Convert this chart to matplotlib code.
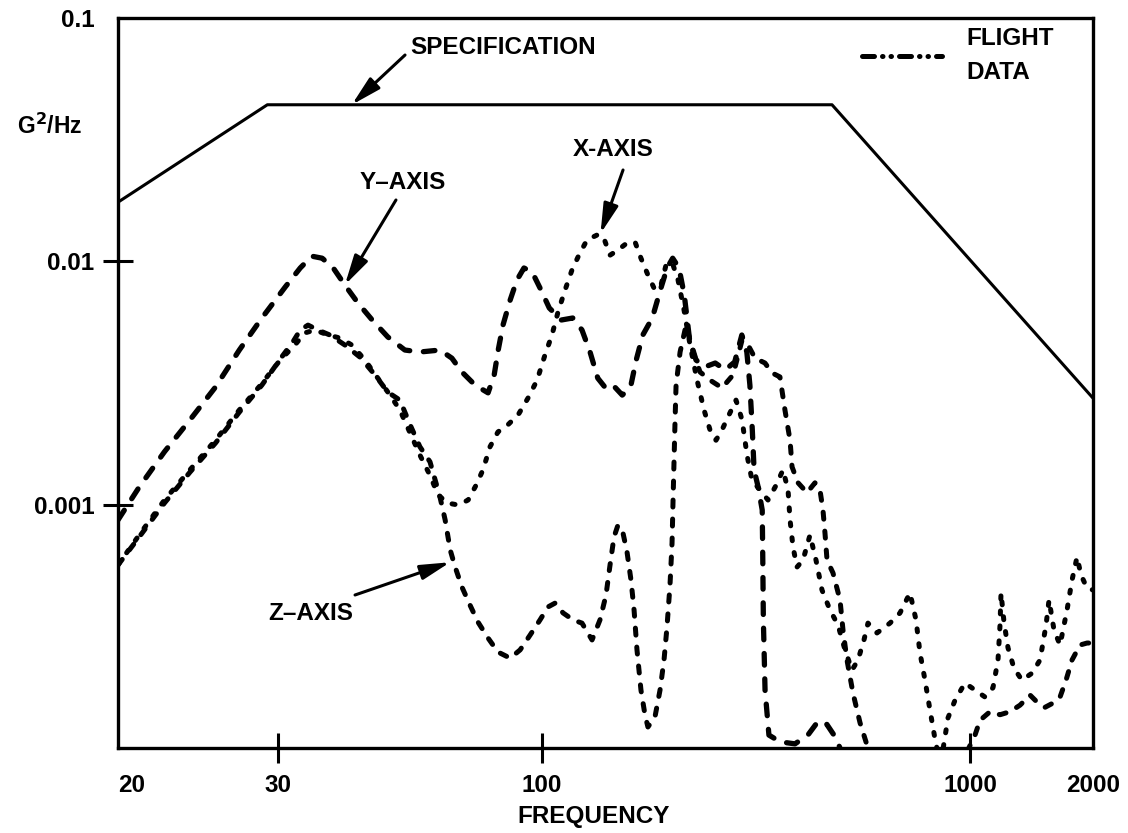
import matplotlib.pyplot as plt
import numpy as np
from matplotlib.lines import Line2D
from matplotlib.ticker import NullLocator

plt.rcParams['font.family'] = ['Liberation Sans', 'DejaVu Sans']
plt.rcParams['font.weight'] = 'bold'

# specification envelope
spec_freq = [20, 29.2, 476, 2000]
spec_psd = [0.0175, 0.044, 0.044, 0.00274]

# Y-axis flight data
y_freq = [20, 21.1, 22.5, 24, 25.6, 27.2, 28.8, 31, 33.2, 35,
          36.7, 38.6, 40.7, 43.2, 46.1, 49.5, 53.5, 57.3, 62.8, 66.3,
          69.4, 73.7, 78.2, 80.4, 81.9, 83.7, 86.5, 89.2, 92.1, 95.6,
          99.1, 104, 111, 118, 124, 129.5, 135, 142, 148, 154,
          161, 166, 172, 181, 189, 196, 202, 209, 215, 221,
          229, 240, 254, 268, 282, 293, 301, 306, 310, 313,
          320, 327, 328, 329, 332, 339, 360, 390, 418, 442,
          463, 486, 510]
y_psd = [8.65e-4, 1.18e-3, 1.65e-3, 2.23e-3, 3.04e-3, 4.32e-3, 5.85e-3, 7.84e-3, 9.39e-3, 1.05e-2,
         1.03e-2, 9.39e-3, 7.99e-3, 6.74e-3, 5.74e-3, 4.89e-3, 4.32e-3, 4.24e-3, 4.32e-3, 4.0e-3,
         3.51e-3, 3.10e-3, 2.88e-3, 3.41e-3, 4.32e-3, 5.47e-3, 6.94e-3, 8.38e-3, 9.39e-3, 9.04e-3,
         7.77e-3, 6.43e-3, 5.74e-3, 5.85e-3, 5.22e-3, 4.24e-3, 3.31e-3, 2.96e-3, 3.04e-3, 2.82e-3,
         3.04e-3, 3.93e-3, 4.98e-3, 5.85e-3, 7.62e-3, 9.39e-3, 1.03e-2, 9.39e-3, 7.27e-3, 4.84e-3,
         3.93e-3, 3.68e-3, 3.82e-3, 3.58e-3, 3.86e-3, 4.98e-3, 4.24e-3, 3.10e-3, 2.03e-3, 1.39e-3,
         1.18e-3, 9.5e-4, 5.92e-4, 3.36e-4, 1.73e-4, 1.13e-4, 1.06e-4, 1.04e-4, 1.13e-4, 1.29e-4,
         1.25e-4, 1.10e-4, 8.9e-5]

# X-axis flight data
x_freq = [20, 21.1, 22.5, 24.0, 25.6, 27.2, 28.7, 30.3, 32.4, 33.9,
          35.5, 37.7, 39.8, 42.0, 44.6, 47.3, 50.0, 52.3, 54.8, 57.3,
          60.0, 62.2, 64.9, 68.2, 71.4, 74.0, 76.4, 78.9, 81.8, 85.6,
          89.7, 93.8, 97.8, 101.6, 105.5, 109.0, 113.2, 117.5, 122.0, 127.4,
          134.5, 138.9, 144.2, 150.5, 158.0, 165.0, 170.3, 176.8, 183.6, 189.7,
          194.9, 201.3, 207.9, 214.7, 221.8, 230.3, 239.1, 246.9, 255.0, 263.4,
          273.5, 284.0, 293.4, 301.3, 309.5, 323.1, 337.3, 352.2, 365.7, 375.7,
          379.8, 385.9, 394.3, 407.2, 422.8, 436.7, 451.0, 470.9, 491.6, 510.5,
          530.1, 547.4, 565.3, 577.6, 606.3, 650.2, 686.2, 724.1, 747.9, 764.1,
          785.0, 806.4, 832.9, 855.6, 888.4, 922.4, 973.4, 1028.6, 1088.2, 1138.4,
          1171, 1184.3, 1191, 1211.3, 1238.9, 1281.1, 1340.2, 1418.5, 1483.9, 1534.9,
          1561.1, 1605.7, 1660.9, 1727.7, 1777.1, 1827.9, 1869.6, 1933.9, 2000]
x_psd = [5.65e-4, 7.5e-4, 1.045e-3, 1.39e-3, 1.84e-3, 2.45e-3, 3.10e-3, 3.93e-3, 4.53e-3, 5.08e-3,
         5.22e-3, 4.98e-3, 4.84e-3, 4.53e-3, 3.93e-3, 3.31e-3, 2.82e-3, 2.45e-3, 1.97e-3, 1.60e-3,
         1.32e-3, 1.10e-3, 1.016e-3, 9.97e-4, 1.045e-3, 1.20e-3, 1.39e-3, 1.73e-3, 1.99e-3, 2.13e-3,
         2.34e-3, 2.74e-3, 3.25e-3, 4.12e-3, 4.98e-3, 6.19e-3, 7.62e-3, 9.21e-3, 1.062e-2, 1.224e-2,
         1.283e-2, 1.27e-2, 1.06e-2, 1.113e-2, 1.19e-2, 1.20e-2, 1.03e-2, 8.79e-3, 7.62e-3, 7.99e-3,
         9.66e-3, 9.94e-3, 8.38e-3, 6.31e-3, 4.53e-3, 3.25e-3, 2.45e-3, 2.03e-3, 1.84e-3, 2.03e-3,
         2.34e-3, 2.69e-3, 2.23e-3, 1.60e-3, 1.26e-3, 1.15e-3, 1.045e-3, 1.20e-3, 1.39e-3, 1.15e-3,
         8.65e-4, 6.70e-4, 5.54e-4, 5.92e-4, 7.50e-4, 5.92e-4, 4.46e-4, 3.69e-4, 3.20e-4, 2.53e-4,
         2.09e-4, 2.30e-4, 2.78e-4, 3.26e-4, 2.97e-4, 3.26e-4, 3.59e-4, 4.34e-4, 3.36e-4, 2.46e-4,
         1.90e-4, 1.43e-4, 1.03e-4, 8.76e-5, 1.33e-4, 1.57e-4, 1.85e-4, 1.73e-4, 1.62e-4, 1.77e-4,
         2.30e-4, 3.20e-4, 4.34e-4, 3.29e-4, 2.58e-4, 2.13e-4, 1.90e-4, 2.03e-4, 2.30e-4, 3.20e-4,
         4.06e-4, 3.05e-4, 2.65e-4, 3.69e-4, 4.90e-4, 6.09e-4, 5.14e-4, 4.54e-4, 4.46e-4]

# Z-axis flight data
z_freq = [20, 21.1, 22.5, 24.0, 25.6, 27.2, 28.8, 30.5, 32.1, 33.2,
          34.4, 36.0, 38.0, 40.7, 43.6, 46.7, 49.5, 52.3, 54.8, 57.3,
          60.0, 62.8, 64.3, 65.8, 67.3, 69.4, 72.0, 74.7, 78.2, 81.8,
          86.5, 90.5, 94.7, 99.1, 103.3, 107.3, 112.0, 118.2, 124.0, 130.9,
          136.6, 141.1, 144.2, 147.3, 150.5, 154.6, 158.0, 161.4, 164.1, 166.7,
          170.3, 174.0, 176.8, 183.6, 188.7, 192.8, 195.9, 199.1, 201.3, 202.4,
          203.5, 204.6, 205.7, 210.2, 217.1, 225.4, 234.0, 246.9, 263.4, 279.4,
          293.4, 303.0, 314.6, 331.9, 344.6, 359.7, 369.5, 379.8, 383.9, 396.5,
          416.1, 434.3, 446.1, 453.4, 458.3, 463.4, 478.5, 496.9, 505.0, 515.9,
          532.9, 553.4, 574.4, 600.0, 806.4, 947.6, 1028.6, 1058.0, 1119.4, 1184.3,
          1253.1, 1325.8, 1402.7, 1467.3, 1526.3, 1596.7, 1660.9, 1718.0, 1777.1, 1859.1,
          1933.9, 2000]
z_psd = [5.65e-4, 7.36e-4, 1.016e-3, 1.36e-3, 1.79e-3, 2.40e-3, 3.10e-3, 4.04e-3, 4.66e-3, 5.22e-3,
         5.47e-3, 5.22e-3, 4.98e-3, 4.53e-3, 4.04e-3, 3.41e-3, 2.90e-3, 2.69e-3, 2.13e-3, 1.73e-3,
         1.50e-3, 1.075e-3, 8.65e-4, 6.51e-4, 5.54e-4, 4.59e-4, 3.87e-4, 3.29e-4, 2.83e-4, 2.48e-4,
         2.34e-4, 2.53e-4, 2.91e-4, 3.36e-4, 3.80e-4, 3.94e-4, 3.59e-4, 3.36e-4, 3.26e-4, 2.78e-4,
         3.36e-4, 4.25e-4, 5.65e-4, 7.36e-4, 8.25e-4, 7.65e-4, 6.39e-4, 4.90e-4, 3.69e-4, 2.53e-4,
         1.73e-4, 1.37e-4, 1.22e-4, 1.34e-4, 1.73e-4, 2.30e-4, 3.14e-4, 4.68e-4, 6.96e-4, 1.045e-3,
         1.53e-3, 2.23e-3, 3.10e-3, 4.24e-3, 5.47e-3, 4.24e-3, 3.51e-3, 3.25e-3, 3.02e-3, 3.41e-3,
         4.75e-3, 4.53e-3, 4.0e-3, 3.82e-3, 3.48e-3, 3.35e-3, 2.45e-3, 1.84e-3, 1.43e-3, 1.23e-3,
         1.12e-3, 1.23e-3, 1.15e-3, 9.5e-4, 7.65e-4, 5.92e-4, 5.24e-4, 4.06e-4, 3.05e-4, 2.30e-4,
         1.68e-4, 1.27e-4, 1.03e-4, 8.5e-5, 8.3e-5, 8.4e-5, 1.13e-4, 1.30e-4, 1.41e-4, 1.37e-4,
         1.41e-4, 1.50e-4, 1.65e-4, 1.53e-4, 1.47e-4, 1.53e-4, 1.62e-4, 1.90e-4, 2.30e-4, 2.65e-4,
         2.70e-4, 2.70e-4]

tick_freq = [20, 30, 100, 1000, 2000]
tick_labels = ["20", "30", "100", "1000", "2000"]

# the printed frequency axis is not an even log scale, so it is
# piecewise log between the labelled ticks
tick_pos = [0, 160, 424, 852, 975]
log_ticks = np.log10(tick_freq)


def fwd(f):
    return np.interp(np.log10(np.clip(f, 1e-9, None)), log_ticks, tick_pos)


def inv(v):
    return 10 ** np.interp(v, tick_pos, log_ticks)


fig = plt.figure(figsize=(11.28, 8.33), dpi=100)
ax = fig.add_axes([118 / 1128, 85 / 833, 975 / 1128, 730 / 833])
ax.set_xscale("function", functions=(fwd, inv))
ax.set_yscale("log")
ax.set_xlim(20, 2000)
ax.set_ylim(1e-4, 0.1)

ax.plot(spec_freq, spec_psd, color="black", lw=2.2)
ax.plot(y_freq, y_psd, color="black", lw=3.8, linestyle=(0, (2.2, 2.6)),
        dash_capstyle="round")
ax.plot(x_freq, x_psd, color="black", lw=3.6, linestyle=(0, (0.6, 2.4)),
        dash_capstyle="round")
ax.plot(z_freq, z_psd, color="black", lw=3.6, linestyle=(0, (1.4, 2.4)),
        dash_capstyle="round")

for s in ax.spines.values():
    s.set_linewidth(2.4)

ax.set_xticks(tick_freq)
ax.set_xticklabels(tick_labels)
ax.set_yticks([0.001, 0.01, 0.1])
ax.set_yticklabels(["0.001", "0.01", "0.1"])
ax.xaxis.set_minor_locator(NullLocator())
ax.yaxis.set_minor_locator(NullLocator())
ax.tick_params(axis="both", direction="inout", length=22, width=2.2, labelsize=17.5)
ax.tick_params(axis="x", pad=8)
ax.tick_params(axis="y", pad=6)
xt = ax.xaxis.get_major_ticks()
xt[0].tick1line.set_visible(False)
xt[-1].tick1line.set_visible(False)
ax.yaxis.get_major_ticks()[-1].tick1line.set_visible(False)
ax.get_xticklabels()[0].set_ha("left")

ax.text(-0.0697, 0.851, r"G$^{\mathbf{2}}$/Hz", transform=ax.transAxes,
        ha="center", va="center", fontsize=16.5)
ax.text(0.488, -0.0945, "FREQUENCY", transform=ax.transAxes,
        ha="center", va="center", fontsize=17.5)

arrow = dict(arrowstyle="-|>,head_length=1.8,head_width=0.45", lw=2.2,
             color="black", shrinkA=0, shrinkB=0)
ax.text(0.2995, 0.959, "SPECIFICATION", transform=ax.transAxes,
        ha="left", va="center", fontsize=17.5)
ax.annotate("", xy=(42, 0.044), xytext=(0.2944, 0.9493),
            textcoords="axes fraction", arrowprops=arrow)
ax.text(0.2923, 0.774, "Y–AXIS", transform=ax.transAxes,
        ha="center", va="center", fontsize=17.5)
ax.annotate("", xy=(40.7, 8.0e-3), xytext=(0.2851, 0.7507),
            textcoords="axes fraction", arrowprops=arrow)
ax.text(0.5077, 0.8192, "X-AXIS", transform=ax.transAxes,
        ha="center", va="center", fontsize=17.5)
ax.annotate("", xy=(137, 1.3e-2), xytext=(0.518, 0.7918),
            textcoords="axes fraction", arrowprops=arrow)
ax.text(0.198, 0.1836, "Z–AXIS", transform=ax.transAxes,
        ha="center", va="center", fontsize=17.5)
ax.annotate("", xy=(65.8, 5.8e-4), xytext=(0.2431, 0.2096),
            textcoords="axes fraction", arrowprops=arrow)

handle = Line2D([], [], color="black", lw=3.6,
                linestyle=(0, (2.4, 1.6, 0.1, 1.6, 0.1, 1.6)),
                dash_capstyle="round")
leg = ax.legend([handle], ["FLIGHT\nDATA"], loc="upper left",
                bbox_to_anchor=((862 - 118) / 975, (748 - 27) / 730),
                frameon=False, fontsize=17.5, handlelength=3.3,
                handletextpad=1.0, borderpad=0, borderaxespad=0)
leg.get_texts()[0].set_linespacing(1.6)

fig.savefig("out.png", dpi=100)
